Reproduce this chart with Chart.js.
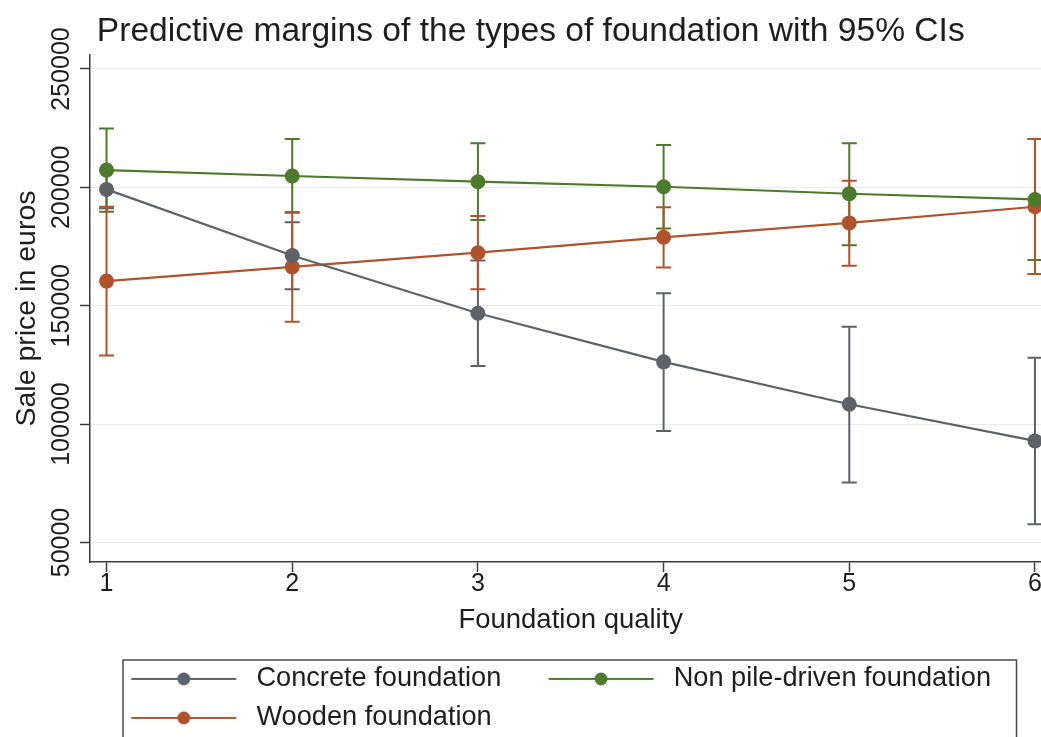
<!DOCTYPE html>
<html>
<head>
<meta charset="utf-8">
<title>Predictive margins of the types of foundation</title>
<script src="https://cdn.jsdelivr.net/npm/chart.js@4/dist/chart.umd.min.js"></script>
<style>
  html, body { margin: 0; padding: 0; overflow: hidden; background: #ffffff; }
  canvas { display: block; }
</style>
</head>
<body>
<canvas id="chart" width="1070" height="745"></canvas>
<script>
// Foundation quality levels and their tick labels
const categories = [1, 2, 3, 4, 5, 6];
const xTickLabels = ['1', '2', '3', '4', '5', '6'];
const yTicks = [50000, 100000, 150000, 200000, 250000];

// Predictive margins (sale price in euros) with 95% confidence limits
const concrete   = [199150, 171200, 146800, 126300, 108400, 92900];
const concreteLo = [191200, 157000, 124500, 97100, 75300, 57700];
const concreteHi = [207100, 185300, 169100, 155300, 141100, 128000];

const nonPile    = [207300, 204800, 202400, 200250, 197300, 194900];
const nonPileLo  = [189700, 189300, 186200, 182600, 175600, 169300];
const nonPileHi  = [224900, 220400, 218600, 217900, 218600, 220400];

const wooden     = [160400, 166400, 172400, 178900, 185000, 191800];
const woodenLo   = [129000, 143200, 157000, 166200, 166900, 163400];
const woodenHi   = [191800, 189600, 187900, 191600, 202800, 220400];

const seriesNames = ['Concrete foundation', 'Non pile-driven foundation', 'Wooden foundation'];
const seriesColors = ['#5d6267', '#4d7a2c', '#b0532d'];

const FONT = "'Liberation Sans', Arial, Helvetica, sans-serif";
const TEXT = '#1e1e1e';
const AXIS = '#3c3c3c';

// Legend key: a short line with a marker in the middle
const KEY_W = 147, KEY_OFF = 35.5, KEY_LEN = 105;
function legendKey(color) {
  const c = document.createElement('canvas');
  c.width = KEY_W; c.height = 20;
  const g = c.getContext('2d');
  g.strokeStyle = color; g.lineWidth = 2;
  g.beginPath(); g.moveTo(KEY_OFF, 10); g.lineTo(KEY_OFF + KEY_LEN, 10); g.stroke();
  g.fillStyle = color;
  g.beginPath(); g.arc(KEY_OFF + KEY_LEN / 2, 10, 6.5, 0, Math.PI * 2); g.fill();
  return c;
}
const legendKeys = seriesColors.map(legendKey);

function points(values) {
  return categories.map((c, i) => ({ x: c, y: values[i] }));
}

function series(i, values, lo, hi) {
  return {
    label: seriesNames[i],
    data: points(values),
    lower: lo,
    upper: hi,
    borderColor: seriesColors[i],
    backgroundColor: seriesColors[i],
    borderWidth: 2.2,
    pointRadius: 7.5,
    pointHoverRadius: 7.5,
    pointBorderWidth: 0,
    pointBackgroundColor: seriesColors[i],
    tension: 0,
    fill: false
  };
}

// Capped vertical bars for the confidence intervals, drawn beneath the lines
const confidenceBars = {
  id: 'confidenceBars',
  beforeDatasetsDraw(chart) {
    const { ctx, scales: { x, y } } = chart;
    const cap = 7.5;
    chart.data.datasets.forEach((ds, i) => {
      if (!chart.isDatasetVisible(i)) return;
      ctx.save();
      ctx.strokeStyle = ds.borderColor;
      ctx.lineWidth = 2;
      categories.forEach((c, j) => {
        const px = x.getPixelForValue(c);
        const yl = y.getPixelForValue(ds.lower[j]);
        const yh = y.getPixelForValue(ds.upper[j]);
        ctx.beginPath();
        ctx.moveTo(px, yl); ctx.lineTo(px, yh);
        ctx.moveTo(px - cap, yl); ctx.lineTo(px + cap, yl);
        ctx.moveTo(px - cap, yh); ctx.lineTo(px + cap, yh);
        ctx.stroke();
      });
      ctx.restore();
    });
  }
};

// Legend frame, and a small shift so the first key lines up under the plot
const legendFrame = {
  id: 'legendFrame',
  afterLayout(chart) {
    chart.legend.left -= 6;
  },
  afterDraw(chart) {
    const { ctx, chartArea, legend } = chart;
    const left = chartArea.left + 33;
    const right = chartArea.right - 35;
    const top = legend.top + 6.5;
    const bottom = legend.bottom + 4;
    ctx.save();
    ctx.strokeStyle = '#4a4a4a';
    ctx.lineWidth = 1.5;
    ctx.strokeRect(left, top, right - left, bottom - top);
    ctx.restore();
  }
};

new Chart(document.getElementById('chart'), {
  type: 'line',
  data: {
    datasets: [
      series(0, concrete, concreteLo, concreteHi),
      series(1, nonPile, nonPileLo, nonPileHi),
      series(2, wooden, woodenLo, woodenHi)
    ]
  },
  options: {
    responsive: false,
    animation: false,
    devicePixelRatio: 1,
    layout: { padding: { left: 10, right: 18.5, top: 0, bottom: 3.5 } },
    scales: {
      x: {
        type: 'linear',
        min: 0.911,
        max: 6.089,
        afterBuildTicks: s => { s.ticks = categories.map(v => ({ value: v })); },
        afterFit: s => { s.height = 91.5; },
        grid: { drawOnChartArea: false, tickLength: 10, tickColor: AXIS, tickWidth: 1.5 },
        border: { color: AXIS, width: 1.5 },
        ticks: {
          autoSkip: false, maxRotation: 0, padding: -3, color: TEXT,
          font: { family: FONT, size: 25 },
          callback: (v, i) => xTickLabels[i]
        },
        title: {
          display: true, text: 'Foundation quality', color: TEXT,
          font: { family: FONT, size: 27.5 },
          padding: { top: 0, bottom: 17 }
        }
      },
      y: {
        type: 'linear',
        min: 41760,
        max: 255900,
        afterBuildTicks: s => { s.ticks = yTicks.map(v => ({ value: v })); },
        afterFit: s => { s.width = 80; },
        grid: { color: '#ebebeb', lineWidth: 1, tickLength: 10, tickColor: AXIS, tickWidth: 1.5 },
        border: { color: AXIS, width: 1.5 },
        ticks: {
          minRotation: 90, maxRotation: 90, crossAlign: 'center', padding: -24,
          color: TEXT, font: { family: FONT, size: 25 },
          callback: v => String(v)
        },
        title: {
          display: true, text: 'Sale price in euros', color: TEXT,
          font: { family: FONT, size: 28.5 },
          padding: { top: 0, bottom: 0 }
        }
      }
    },
    plugins: {
      title: {
        display: true,
        text: 'Predictive margins of the types of foundation with 95% CIs',
        color: TEXT,
        font: { family: FONT, size: 33.6, weight: 'normal' },
        padding: { top: 12, bottom: 2.7 }
      },
      legend: {
        position: 'bottom',
        fullSize: false,
        align: 'start',
        labels: {
          usePointStyle: true,
          pointStyleWidth: KEY_W,
          padding: 11.8,
          color: TEXT,
          font: { family: FONT, size: 27.2 },
          generateLabels: chart => chart.data.datasets.map((ds, i) => ({
            text: ds.label,
            pointStyle: legendKeys[i],
            fillStyle: ds.borderColor,
            strokeStyle: ds.borderColor,
            lineWidth: 0,
            fontColor: TEXT,
            hidden: !chart.isDatasetVisible(i),
            datasetIndex: i
          }))
        }
      },
      tooltip: { enabled: false }
    }
  },
  plugins: [confidenceBars, legendFrame]
});
</script>
</body>
</html>
